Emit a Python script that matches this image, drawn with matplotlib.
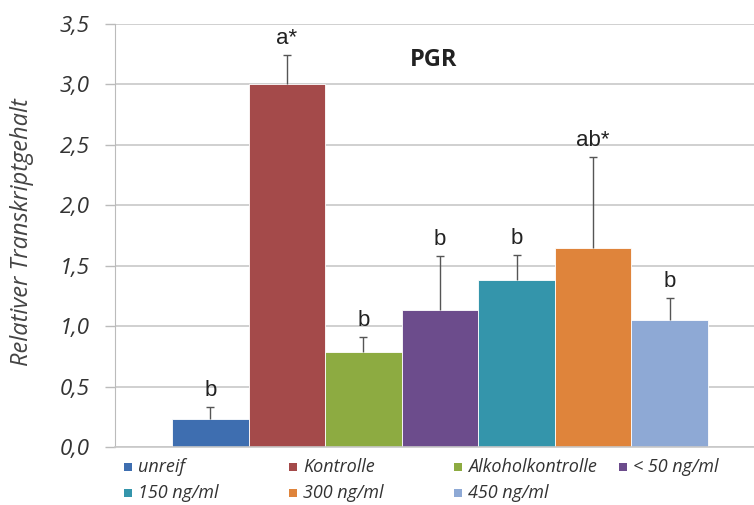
import matplotlib
matplotlib.use("Agg")
import matplotlib.pyplot as plt
from matplotlib.patches import Rectangle
import numpy as np

categories = ["unreif", "Kontrolle", "Alkoholkontrolle", "< 50 ng/ml",
              "150 ng/ml", "300 ng/ml", "450 ng/ml"]
values = [0.23, 3.00, 0.79, 1.13, 1.38, 1.65, 1.05]
errors = [0.10, 0.24, 0.12, 0.45, 0.21, 0.75, 0.18]
letters = ["b", "a*", "b", "b", "b", "ab*", "b"]
colors = ["#3e6eb0", "#a44a4a", "#8dab41", "#6c4c8c", "#3495ab", "#df843b", "#8ea9d5"]
yticks = [0.0, 0.5, 1.0, 1.5, 2.0, 2.5, 3.0, 3.5]

W, H = 754, 505
fig = plt.figure(figsize=(W/100, H/100), dpi=100)
ax = fig.add_axes([115/W, 58/H, 1 - 115/W, (447-24)/H])

x = np.arange(len(values))
vals = np.array(values)
errs = np.array(errors)
ax.bar(x, vals, width=1.0, color=colors, edgecolor="white", linewidth=0.6, zorder=2)
ax.vlines(x, vals, vals + errs, color="#555555", linewidth=1.0, zorder=3)
ax.plot(x, vals + errs, linestyle="none", marker="_", markersize=6,
        markeredgewidth=1.0, color="#555555", zorder=3)
for xi, v, e, t in zip(x, vals, errs, letters):
    ax.text(xi, v + e + 0.05, t, ha="center", va="bottom", fontsize=16,
            family="Liberation Sans", color="#222222")

ax.set_xlim(-1.245, 7.1)
ax.set_ylim(0, 3.5)
ax.set_yticks(yticks)
ax.set_yticklabels([f"{t:.1f}".replace(".", ",") for t in yticks],
                   fontsize=16, style="italic", color="#333333", family="Open Sans")
ax.tick_params(axis="y", length=7, width=1, color="#bbbbbb", pad=11)
ax.set_xticks([])
ax.yaxis.grid(True, color="#c8c8c8", linewidth=1.2, zorder=0)
ax.set_axisbelow(True)
for s in ["top", "right"]:
    ax.spines[s].set_visible(False)
ax.spines["left"].set_color("#bbbbbb")
ax.spines["bottom"].set_color("#c8c8c8")
ax.spines["bottom"].set_linewidth(1.2)

fig.text(22/W, 1 - 232/H, "Relativer Transkriptgehalt", rotation=90,
         ha="center", va="center", fontsize=17, style="italic", color="#444444",
         family="Open Sans")
fig.text(434/W, 1 - 60/H, "PGR", ha="center", va="center", fontsize=17,
         fontweight="bold", color="#222222", family="Open Sans")

# legend laid out row-wise like the original
for i, (lab, c) in enumerate(zip(categories, colors)):
    row, col = divmod(i, 4)
    px = 124 + col * 165
    py = 467 + row * 26
    fig.add_artist(Rectangle((px/W, 1 - (py + 4)/H), 8/W, 8/H,
                             transform=fig.transFigure, facecolor=c, edgecolor="none"))
    fig.text((px + 14)/W, 1 - py/H, lab, ha="left", va="center", fontsize=13,
             style="italic", color="#333333", family="Open Sans")

fig.savefig("out.png", dpi=100)
